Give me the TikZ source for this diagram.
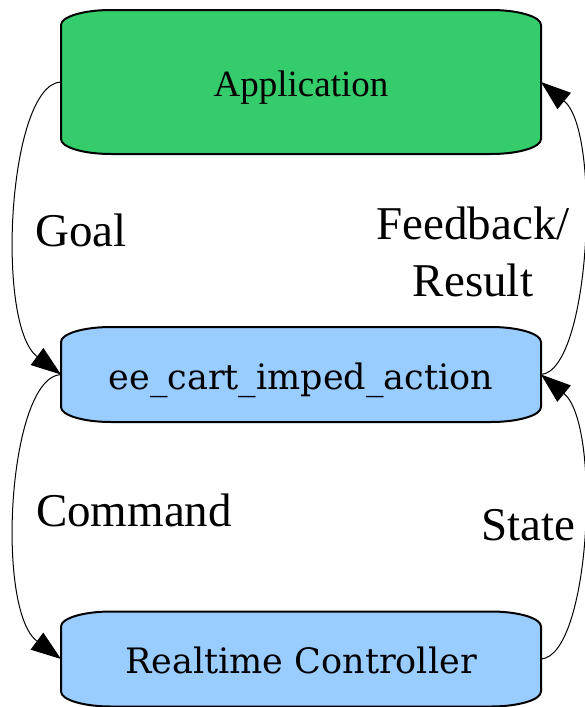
\documentclass[tikz,border=0pt]{standalone}
\usepackage{fontspec}
\setmainfont{Liberation Serif}
\newfontfamily\boxfont{DejaVu Serif}
\usepackage{tikz}
\usetikzlibrary{arrows.meta}
\usetikzlibrary{backgrounds}

\definecolor{appgreen}{RGB}{53,204,107}
\definecolor{layerblue}{RGB}{153,204,255}

% box outline with flat elliptic corners
\newcommand{\tabshape}[2]{%
  \draw[line width=2pt,fill=#2] ([yshift=-15pt]#1.north west)
    arc[start angle=180,end angle=90,x radius=50pt,y radius=15pt] -- ([xshift=-50pt]#1.north east)
    arc[start angle=90,end angle=0,x radius=50pt,y radius=15pt] -- ([yshift=15pt]#1.south east)
    arc[start angle=0,end angle=-90,x radius=50pt,y radius=15pt] -- ([xshift=50pt]#1.south west)
    arc[start angle=270,end angle=180,x radius=50pt,y radius=15pt] -- cycle;}

\begin{document}
\begin{tikzpicture}[x=1pt,y=1pt,
	layer/.style={inner sep=0pt,outer sep=0pt,minimum width=480pt,minimum height=95pt,
		text height=29pt,text depth=0pt,font=\boxfont\fontsize{35}{42}\selectfont},
	flow/.style={-{Triangle[length=30pt,width=21pt]},line width=1pt},
	tag/.style={font=\fontsize{47}{57}\selectfont,align=center}]

	\useasboundingbox (0,0) rectangle (585,-707);

	\node[layer,minimum height=144pt,font=\fontsize{37}{44}\selectfont] (app) at (301,-82) {Application};
	\node[layer] (act) at (301,-374.5) {ee\_cart\_imped\_action};
	\node[layer] (rt) at (301,-659) {Realtime Controller};

	\begin{scope}[on background layer]
		\tabshape{app}{appgreen}
		\tabshape{act}{layerblue}
		\tabshape{rt}{layerblue}
	\end{scope}

	\node[tag] (goal) at (81,-230) {Goal};
	\node[tag] (feedback) at (473,-252) {Feedback/\\Result};
	\node[tag] (command) at (134,-510) {Command};
	\node[tag] (state) at (528,-525) {State};

	\draw[flow] (app.west) .. controls (8,-84) and (-5,-325) .. (act.west);
	\draw[flow] (act.west) .. controls (8,-377) and (-5,-610) .. (rt.west);
	\draw[flow] (act.east) .. controls (590,-371) and (602,-132) .. (app.east);
	\draw[flow] (rt.east) .. controls (590,-656) and (602,-425) .. (act.east);
\end{tikzpicture}
\end{document}
